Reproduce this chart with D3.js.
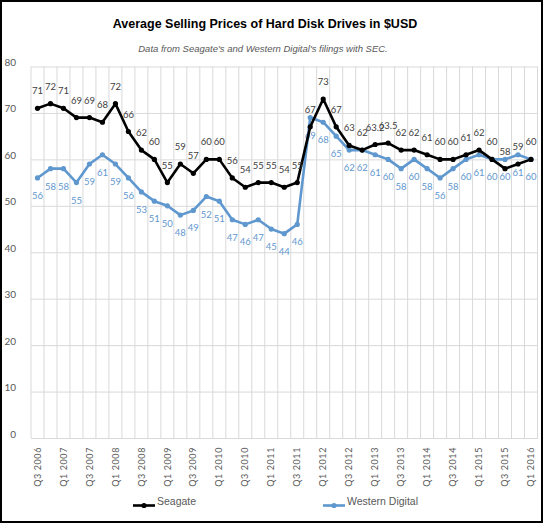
<!DOCTYPE html>
<html>
<head>
<meta charset="utf-8">
<script src="https://cdn.jsdelivr.net/npm/d3@7"></script>
<style>
  body { margin: 0; background: #fff; }
  svg { display: block; }
</style>
</head>
<body>
<div id="chart"></div>
<script>
// quarter labels, Q3 2006 .. Q1 2016
const quarters = [
  'Q3 2006', 'Q4 2006', 'Q1 2007', 'Q2 2007', 'Q3 2007', 'Q4 2007',
  'Q1 2008', 'Q2 2008', 'Q3 2008', 'Q4 2008', 'Q1 2009', 'Q2 2009',
  'Q3 2009', 'Q4 2009', 'Q1 2010', 'Q2 2010', 'Q3 2010', 'Q4 2010',
  'Q1 2011', 'Q2 2011', 'Q3 2011', 'Q4 2011', 'Q1 2012', 'Q2 2012',
  'Q3 2012', 'Q4 2012', 'Q1 2013', 'Q2 2013', 'Q3 2013', 'Q4 2013',
  'Q1 2014', 'Q2 2014', 'Q3 2014', 'Q4 2014', 'Q1 2015', 'Q2 2015',
  'Q3 2015', 'Q4 2015', 'Q1 2016'
];
const seagate = [71, 72, 71, 69, 69, 68, 72, 66, 62, 60, 55, 59, 57, 60, 60, 56, 54, 55, 55, 54,
  55, 67, 73, 67, 63, 62, 63.2, 63.5, 62, 62, 61, 60, 60, 61, 62, 60, 58, 59, 60];
const westernDigital = [56, 58, 58, 55, 59, 61, 59, 56, 53, 51, 50, 48, 49, 52, 51, 47, 46, 47, 45, 44,
  46, 69, 68, 65, 62, 62, 61, 60, 58, 60, 58, 56, 58, 60, 61, 60, 60, 61, 60];
const yTicks = [0, 10, 20, 30, 40, 50, 60, 70, 80];

const W = 544, H = 524;
const PLOT = {LEFT: 31, RIGHT: 537.5, TOP: 66.5, BOTTOM: 438};
const GRID = '#d9d9d9';
const BLUE = '#5f97cf';

const svg = d3.select('#chart').append('svg')
  .attr('width', W)
  .attr('height', H);

svg.append('rect')
  .attr('x', 1).attr('y', 1)
  .attr('width', W - 3).attr('height', H - 3)
  .attr('fill', '#fff')
  .attr('stroke', '#000')
  .attr('stroke-width', 2);

// titles
svg.append('text')
  .attr('x', 265).attr('y', 28)
  .attr('text-anchor', 'middle')
  .attr('font-family', 'Liberation Sans, Arial, sans-serif')
  .attr('font-weight', 'bold')
  .attr('font-size', 12.5)
  .attr('fill', '#000')
  .text('Average Selling Prices of Hard Disk Drives in $USD');

svg.append('text')
  .attr('x', 263).attr('y', 52)
  .attr('text-anchor', 'middle')
  .attr('font-family', 'Liberation Sans, Arial, sans-serif')
  .attr('font-style', 'italic')
  .attr('font-size', 9.5)
  .attr('fill', '#595959')
  .text("Data from Seagate's and Western Digital's filings with SEC.");

// scales
const x = d3.scaleBand()
  .domain(quarters)
  .range([PLOT.LEFT, PLOT.RIGHT]);

const y = d3.scaleLinear()
  .domain([0, 80])
  .range([PLOT.BOTTOM, PLOT.TOP]);

const cx = d => x(d) + x.bandwidth() / 2;

// vertical grid at band edges
svg.append('g')
  .selectAll('line')
  .data(quarters.concat(['end']))
  .join('line')
    .attr('x1', (d, i) => i < quarters.length ? x(d) : PLOT.RIGHT)
    .attr('x2', (d, i) => i < quarters.length ? x(d) : PLOT.RIGHT)
    .attr('y1', PLOT.TOP)
    .attr('y2', PLOT.BOTTOM)
    .attr('stroke', GRID)
    .attr('stroke-width', 1);

// y axis with horizontal grid
const yAxis = svg.append('g')
  .attr('transform', `translate(${PLOT.LEFT}, 0)`)
  .call(d3.axisLeft(y)
    .tickValues(yTicks)
    .tickSize(-(PLOT.RIGHT - PLOT.LEFT))
    .tickPadding(15));
yAxis.select('.domain').remove();
yAxis.selectAll('line').attr('stroke', GRID);
yAxis.selectAll('text')
  .attr('font-family', 'Lato, sans-serif')
  .attr('font-size', 10)
  .attr('fill', '#595959')
  .attr('dy', '-0.1em');

// x axis labels, every second quarter
const xAxis = svg.append('g')
  .attr('transform', `translate(0, ${PLOT.BOTTOM})`)
  .call(d3.axisBottom(x)
    .tickValues(quarters.filter((d, i) => i % 2 === 0))
    .tickSize(0));
xAxis.select('.domain').attr('stroke', GRID);
xAxis.selectAll('text')
  .attr('font-family', 'Lato, sans-serif')
  .attr('font-size', 9)
  .attr('letter-spacing', 0.6)
  .attr('fill', '#595959')
  .attr('text-anchor', 'end')
  .attr('transform', 'rotate(-90)')
  .attr('x', -9)
  .attr('y', 0)
  .attr('dy', '0.35em');

// lines
const line = d3.line()
  .x((d, i) => cx(quarters[i]))
  .y(d => y(d));

function drawSeries(values, color, labelColor, above) {
  const g = svg.append('g');
  g.append('path')
    .datum(values)
    .attr('d', line)
    .attr('fill', 'none')
    .attr('stroke', color)
    .attr('stroke-width', 2.6)
    .attr('stroke-linejoin', 'round');
  g.selectAll('circle')
    .data(values)
    .join('circle')
      .attr('cx', (d, i) => cx(quarters[i]))
      .attr('cy', d => y(d))
      .attr('r', 2.6)
      .attr('fill', color);
  g.selectAll('text')
    .data(values)
    .join('text')
      .attr('x', (d, i) => cx(quarters[i]))
      .attr('y', d => y(d) + (above ? -14 : 21))
      .attr('text-anchor', 'middle')
      .attr('font-family', 'Lato, sans-serif')
      .attr('font-size', 9.5)
      .attr('fill', labelColor)
      .text(d => d);
}

drawSeries(westernDigital, BLUE, BLUE, false);
drawSeries(seagate, '#000', '#404040', true);

// legend
const legend = [
  {name: 'Seagate', color: '#000', x: 133},
  {name: 'Western Digital', color: BLUE, x: 323}
];
const lg = svg.append('g').selectAll('g')
  .data(legend)
  .join('g')
    .attr('transform', d => `translate(${d.x}, 505.5)`);
lg.append('line')
  .attr('x1', 0).attr('x2', 22)
  .attr('stroke', d => d.color)
  .attr('stroke-width', 2.6);
lg.append('circle')
  .attr('cx', 11).attr('r', 2.6)
  .attr('fill', d => d.color);
lg.append('text')
  .attr('x', 24).attr('y', -1)
  .attr('font-family', 'Liberation Sans, Arial, sans-serif')
  .attr('font-size', 10.5)
  .attr('fill', '#595959')
  .text(d => d.name);
</script>
</body>
</html>
